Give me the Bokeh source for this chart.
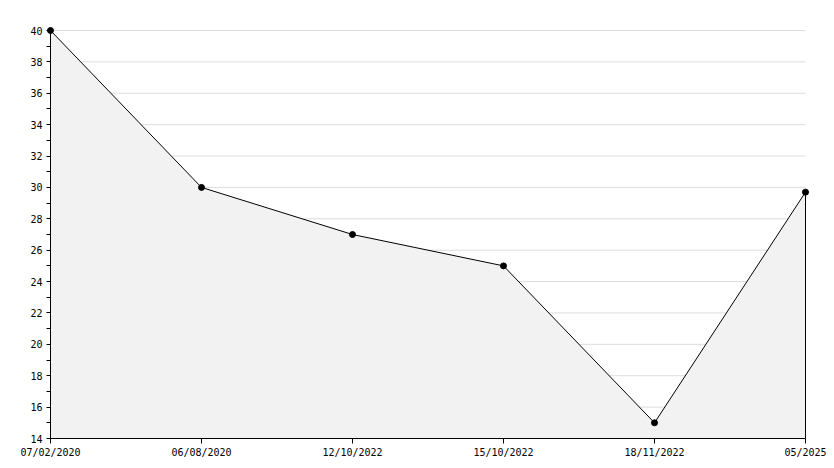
from bokeh.plotting import figure
from bokeh.models import FixedTicker, Range1d, LinearAxis
from bokeh.embed import file_html
from bokeh.resources import INLINE

dates = ["07/02/2020", "06/08/2020", "12/10/2022", "15/10/2022", "18/11/2022", "05/2025"]
values = [40, 30, 27, 25, 15, 29.7]
y_min, y_max = 14, 40
y_major = list(range(14, 41, 2))
y_minor = list(range(15, 40, 2))

xs = list(range(len(dates)))
x_last = len(dates) - 1

# small padding so end markers are not clipped by the frame
x_pad = 6 / 151.0
y_pad = 6 / (408.0 / 26.0)

p = figure(width=834, height=468, output_backend="svg", toolbar_location=None,
           x_range=Range1d(-x_pad, x_last + x_pad), y_range=Range1d(y_min - y_pad, y_max + y_pad),
           min_border_left=44, min_border_right=23, min_border_top=24, min_border_bottom=24)
p.outline_line_color = None
p.background_fill_color = "white"
p.border_fill_color = "white"
p.xgrid.grid_line_color = None
p.ygrid.grid_line_color = None

# horizontal grid lines
p.segment(x0=[0] * len(y_major), y0=y_major, x1=[x_last] * len(y_major), y1=y_major,
          line_color="#dddddd", line_width=1)

p.varea(x=xs, y1=[y_min] * len(xs), y2=values, fill_color="#f2f2f2")
p.line(xs, values, line_color="black", line_width=1)
p.segment(x0=[x_last], y0=[y_min], x1=[x_last], y1=[values[-1]], line_color="black", line_width=1)
p.scatter(xs, values, marker="circle", size=6, fill_color="black", line_color="black")

# label-only axes at the frame edges
p.yaxis.ticker = FixedTicker(ticks=y_major)
p.xaxis.ticker = FixedTicker(ticks=xs)
p.xaxis.major_label_overrides = {i: d for i, d in enumerate(dates)}
for ax in [p.xaxis[0], p.yaxis[0]]:
    ax.axis_line_color = None
    ax.major_tick_line_color = None
    ax.minor_tick_line_color = None
    ax.major_tick_in = 0
    ax.major_tick_out = 0
    ax.minor_tick_in = 0
    ax.minor_tick_out = 0
    ax.major_label_text_font = "DejaVu Sans Mono"
    ax.major_label_text_font_size = "10px"
    ax.major_label_text_color = "black"
p.yaxis.major_label_standoff = 2
p.xaxis.major_label_standoff = 2

# line-and-tick axes at the data origin (tick marks drawn as minor ticks, so no labels)
yline = LinearAxis(ticker=FixedTicker(ticks=[], minor_ticks=sorted(y_major + y_minor)),
                   fixed_location=0, bounds=(y_min, y_max),
                   major_tick_in=0, major_tick_out=0, minor_tick_in=0, minor_tick_out=4,
                   axis_line_color="black", minor_tick_line_color="black")
xline = LinearAxis(ticker=FixedTicker(ticks=[], minor_ticks=xs),
                   fixed_location=y_min, bounds=(0, x_last),
                   major_tick_in=0, major_tick_out=0, minor_tick_in=0, minor_tick_out=5,
                   axis_line_color="black", minor_tick_line_color="black")
p.add_layout(yline, "left")
p.add_layout(xline, "below")

open("out.html", "w").write(file_html(p, INLINE))
